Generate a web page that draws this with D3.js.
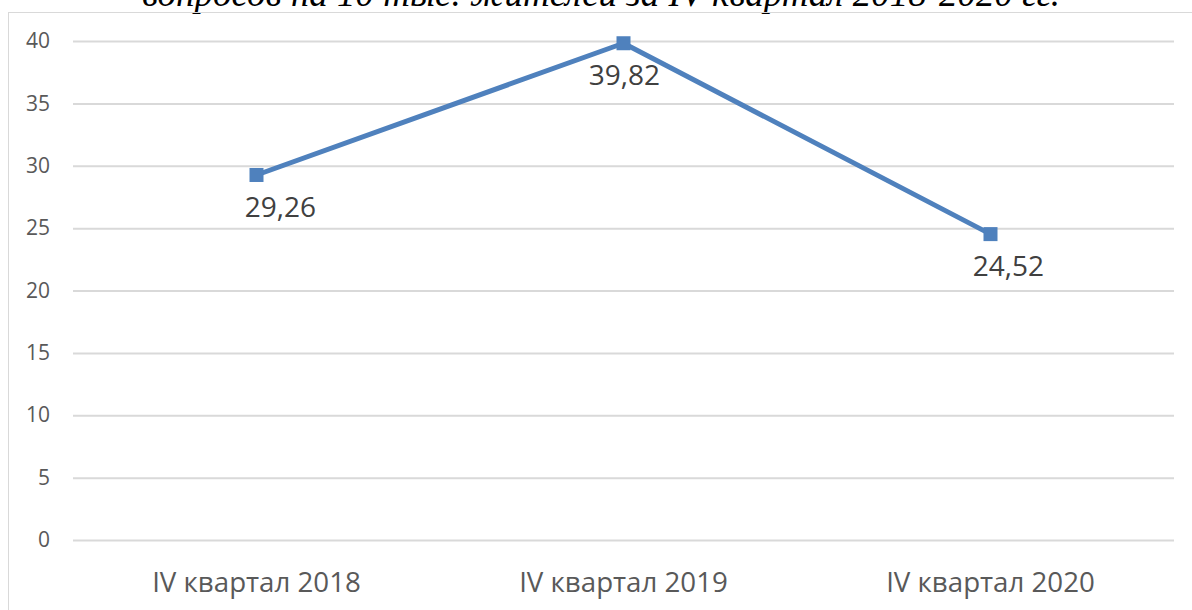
<!doctype html>
<html lang="ru">
<head>
<meta charset="utf-8">
<title>IV квартал 2018-2020</title>
<script src="https://cdn.jsdelivr.net/npm/d3@7"></script>
<style>
  body { margin: 0; background: #fff; }
  svg { display: block; }
</style>
</head>
<body>
<div id="chart"></div>
<script>
// data
const categories = ['IV квартал 2018', 'IV квартал 2019', 'IV квартал 2020'];
const values = [29.26, 39.82, 24.52];
const yTicks = [0, 5, 10, 15, 20, 25, 30, 35, 40];

const width = 1192, height = 610;
const plot = {left: 73, right: 1174, top: 41, bottom: 540};

const svg = d3.select('#chart').append('svg')
    .attr('width', width)
    .attr('height', height);

// title line, cut off by the top of the page as in the source
svg.append('text')
    .attr('x', 601)
    .attr('y', 6)
    .attr('text-anchor', 'middle')
    .style('font-family', '"Liberation Serif", "Times New Roman", serif')
    .style('font-style', 'italic')
    .style('font-size', '37px')
    .style('fill', '#000')
    .text('вопросов на 10 тыс. жителей за IV квартал 2018-2020 гг.');

// chart frame
svg.append('rect')
    .attr('x', 8.5)
    .attr('y', 12.5)
    .attr('width', 1200)
    .attr('height', 640)
    .style('fill', 'none')
    .style('stroke', '#d9d9d9')
    .style('stroke-width', 1);

const x = d3.scalePoint()
    .domain(categories)
    .range([plot.left, plot.right])
    .padding(0.5);

const y = d3.scaleLinear()
    .domain([0, 40])
    .range([plot.bottom, plot.top]);

// gridlines + y labels
const yAxis = svg.append('g')
    .attr('transform', 'translate(' + plot.left + ',0)')
    .call(d3.axisLeft(y).tickValues(yTicks).tickSize(-(plot.right - plot.left)).tickPadding(23));

yAxis.select('.domain').remove();
yAxis.selectAll('.tick line')
    .style('stroke', '#d9d9d9')
    .style('stroke-width', 2);
yAxis.selectAll('.tick text')
    .style('font-family', '"Open Sans", Calibri, sans-serif')
    .style('font-size', '21px')
    .style('fill', '#595959');

// category labels
svg.append('g').selectAll('text')
    .data(categories)
    .join('text')
    .attr('x', d => x(d))
    .attr('y', 592)
    .attr('text-anchor', 'middle')
    .style('font-family', '"Open Sans", Calibri, sans-serif')
    .style('font-size', '27.7px')
    .style('fill', '#595959')
    .text(d => d);

const pts = categories.map((c, i) => ({c: c, v: values[i]}));

svg.append('path')
    .datum(pts)
    .attr('d', d3.line().x(d => x(d.c)).y(d => y(d.v)))
    .style('fill', 'none')
    .style('stroke', '#4f81bd')
    .style('stroke-width', 5)
    .style('stroke-linejoin', 'round');

svg.append('g').selectAll('rect')
    .data(pts)
    .join('rect')
    .attr('x', d => x(d.c) - 7)
    .attr('y', d => y(d.v) - 7)
    .attr('width', 14)
    .attr('height', 14)
    .style('fill', '#4f81bd');

// labels were nudged by hand in the original
const labelShift = [24, 1, 18];
const fmt = d3.format('.2f');
svg.append('g').selectAll('text')
    .data(pts)
    .join('text')
    .attr('x', (d, i) => x(d.c) + labelShift[i])
    .attr('y', d => y(d.v) + 42)
    .attr('text-anchor', 'middle')
    .style('font-family', '"Open Sans", Calibri, sans-serif')
    .style('font-size', '28px')
    .style('fill', '#404040')
    .text(d => fmt(d.v).replace('.', ','));
</script>
</body>
</html>
